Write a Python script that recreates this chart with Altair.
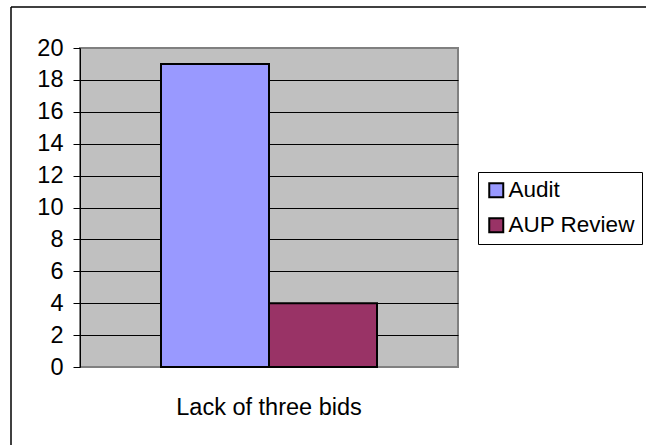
import altair as alt
import pandas as pd

categories = ["Lack of three bids", "Lack of three bids"]
series = ["Audit", "AUP Review"]
values = [19, 4]
colors = ["#9999FF", "#993366"]
y_ticks = [0, 2, 4, 6, 8, 10, 12, 14, 16, 18, 20]

df = pd.DataFrame({"category": categories, "series": series, "value": values})

FONT = "Liberation Sans"
FS = 23.5

bars = alt.Chart(df).mark_bar(stroke="black", strokeWidth=2).encode(
    x=alt.X(
        "category:N",
        title=None,
        scale=alt.Scale(paddingOuter=0.375, paddingInner=0),
        axis=alt.Axis(
            labelAngle=0, ticks=False, domain=False, labelPadding=28,
            labelFontSize=FS, labelColor="black", labelFont=FONT, labelLimit=500,
        ),
    ),
    xOffset=alt.XOffset("series:N", sort=series,
                        scale=alt.Scale(paddingInner=0, paddingOuter=0)),
    y=alt.Y(
        "value:Q",
        title=None,
        scale=alt.Scale(domain=[0, 20], nice=False),
        axis=alt.Axis(
            values=y_ticks, grid=True,
            gridColor=alt.condition("datum.value == 0 || datum.value == 20",
                                    alt.value("#808080"), alt.value("black")),
            gridOpacity=1, gridWidth=1,
            domainColor="black", domainWidth=1,
            tickColor="black", tickSize=7, tickWidth=1,
            labelPadding=10, labelFontSize=FS, labelColor="black", labelFont=FONT,
        ),
    ),
    color=alt.Color(
        "series:N", sort=series,
        scale=alt.Scale(domain=series, range=colors),
        legend=alt.Legend(
            title=None, orient="none", legendX=398, legendY=124,
            strokeColor="black", fillColor="white", padding=7, cornerRadius=0,
            symbolType="square", symbolSize=196, symbolStrokeColor="black",
            symbolStrokeWidth=2, symbolOpacity=1,
            labelFontSize=22.5, labelFont=FONT, labelColor="black", labelLimit=300,
            rowPadding=12, labelOffset=1,
        ),
    ),
)

border_df = pd.DataFrame({"k": [0]})
left_border = alt.Chart(border_df).mark_rule(color="black", strokeWidth=1.5).encode(
    x=alt.value(-69), y=alt.value(-41), y2=alt.value(460)
)
top_border = alt.Chart(border_df).mark_rule(color="black", strokeWidth=1.5).encode(
    x=alt.value(-69), x2=alt.value(700), y=alt.value(-41)
)

chart = alt.layer(bars, left_border, top_border).properties(
    width=378, height=319,
    autosize=alt.AutoSizeParams(type="none"),
    padding={"left": 80, "top": 48, "right": 188, "bottom": 78},
    background="white",
).configure(font=FONT).configure_view(
    fill="#C0C0C0", stroke="#808080", strokeWidth=2
)

chart.save("out.html", embed_options={"renderer": "svg", "actions": False})
